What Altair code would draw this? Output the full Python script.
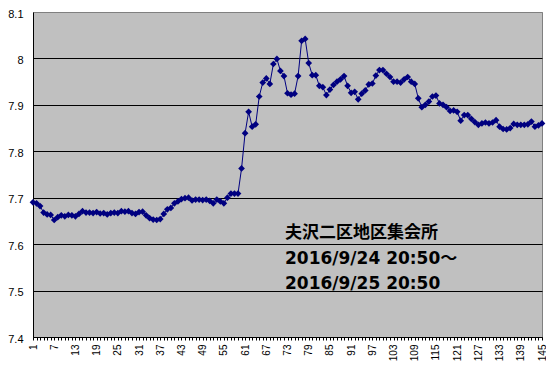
import altair as alt
import pandas as pd

# pH-like readings, 145 samples
values = [
    7.690, 7.688, 7.682, 7.668, 7.664, 7.663, 7.652, 7.658, 7.662, 7.660,
    7.663, 7.662, 7.660, 7.665, 7.671, 7.668, 7.668, 7.667, 7.669, 7.666,
    7.667, 7.664, 7.667, 7.668, 7.667, 7.671, 7.670, 7.671, 7.667, 7.665,
    7.669, 7.670, 7.662, 7.656, 7.653, 7.652, 7.654, 7.665, 7.675, 7.678,
    7.688, 7.692, 7.697, 7.699, 7.700, 7.694, 7.696, 7.696, 7.695, 7.696,
    7.693, 7.688, 7.696, 7.692, 7.688, 7.700, 7.709, 7.709, 7.709, 7.763,
    7.839, 7.885, 7.853, 7.858, 7.918, 7.948, 7.957, 7.945, 7.988, 7.999,
    7.973, 7.962, 7.925, 7.922, 7.924, 7.962, 8.038, 8.042, 7.990, 7.964,
    7.964, 7.941, 7.938, 7.921, 7.933, 7.943, 7.950, 7.955, 7.962, 7.941,
    7.926, 7.928, 7.912, 7.924, 7.931, 7.944, 7.946, 7.963, 7.975, 7.975,
    7.967, 7.960, 7.950, 7.950, 7.948, 7.955, 7.960, 7.950, 7.945, 7.914,
    7.895, 7.900, 7.907, 7.918, 7.920, 7.903, 7.900, 7.895, 7.887, 7.888,
    7.885, 7.866, 7.878, 7.878, 7.870, 7.863, 7.857, 7.860, 7.862, 7.860,
    7.862, 7.867, 7.853, 7.848, 7.847, 7.850, 7.859, 7.857, 7.857, 7.857,
    7.858, 7.864, 7.853, 7.856, 7.860,
]
index = list(range(1, len(values) + 1))

x_labels = [1, 7, 13, 19, 25, 31, 37, 43, 49, 55, 61, 67, 73, 79, 85, 91, 97,
            103, 109, 115, 121, 127, 133, 139, 145]
y_ticks = [7.4, 7.5, 7.6, 7.7, 7.8, 7.9, 8.0, 8.1]

note_lines = ["夫沢二区地区集会所", "2016/9/24 20:50～", "2016/9/25 20:50"]

df = pd.DataFrame({"i": index, "v": values})

label_expr = "indexof([" + ",".join(str(v) for v in x_labels) + "], datum.value) >= 0 ? datum.label : ''"

x_enc = alt.X(
    "i:Q",
    scale=alt.Scale(domain=[1, 145], nice=False, zero=False),
    axis=alt.Axis(
        title=None,
        values=index,
        labelExpr=label_expr,
        labelAngle=-90,
        labelFontSize=10,
        labelFont="Liberation Sans",
        labelColor="black",
        labelPadding=4,
        labelOverlap=False,
        labelFlush=False,
        labelBound=False,
        tickSize=3,
        tickColor="black",
        domainColor="black",
        grid=False,
    ),
)

y_enc = alt.Y(
    "v:Q",
    scale=alt.Scale(domain=[7.4, 8.1], nice=False, zero=False),
    axis=alt.Axis(
        title=None,
        values=y_ticks,
        format=".1~f",
        labelFontSize=11,
        labelFont="Liberation Sans",
        labelColor="black",
        labelPadding=10,
        labelOffset=2,
        labelFlush=False,
        labelBound=False,
        ticks=False,
        domainColor="black",
        grid=True,
        gridColor=alt.condition("datum.value > 8.05", alt.value("#808080"), alt.value("black")),
        gridWidth=1,
        gridOpacity=1,
    ),
)

line = alt.Chart(df).mark_line(
    color="#000080",
    strokeWidth=1,
    point=alt.OverlayMarkDef(shape="diamond", size=45, filled=True, color="#000080"),
).encode(x=x_enc, y=y_enc)

note = alt.Chart(pd.DataFrame({"k": [0]})).mark_text(
    align="left",
    baseline="alphabetic",
    font="DejaVu Sans, Noto Sans CJK JP",
    fontWeight="bold",
    fontSize=17,
    lineHeight=25.5,
    color="black",
).encode(
    x=alt.value(252),
    y=alt.value(226),
    text=alt.value(note_lines),
)

chart = alt.layer(line, note).properties(
    width=509,
    height=325,
    autosize=alt.AutoSizeParams(type="none"),
    padding={"left": 25, "top": 4, "right": 4, "bottom": 24},
    background="white",
).configure_view(
    fill="#C0C0C0",
    stroke="#808080",
    strokeWidth=1,
)

chart.save("out.html", embed_options={"renderer": "svg", "actions": False})
